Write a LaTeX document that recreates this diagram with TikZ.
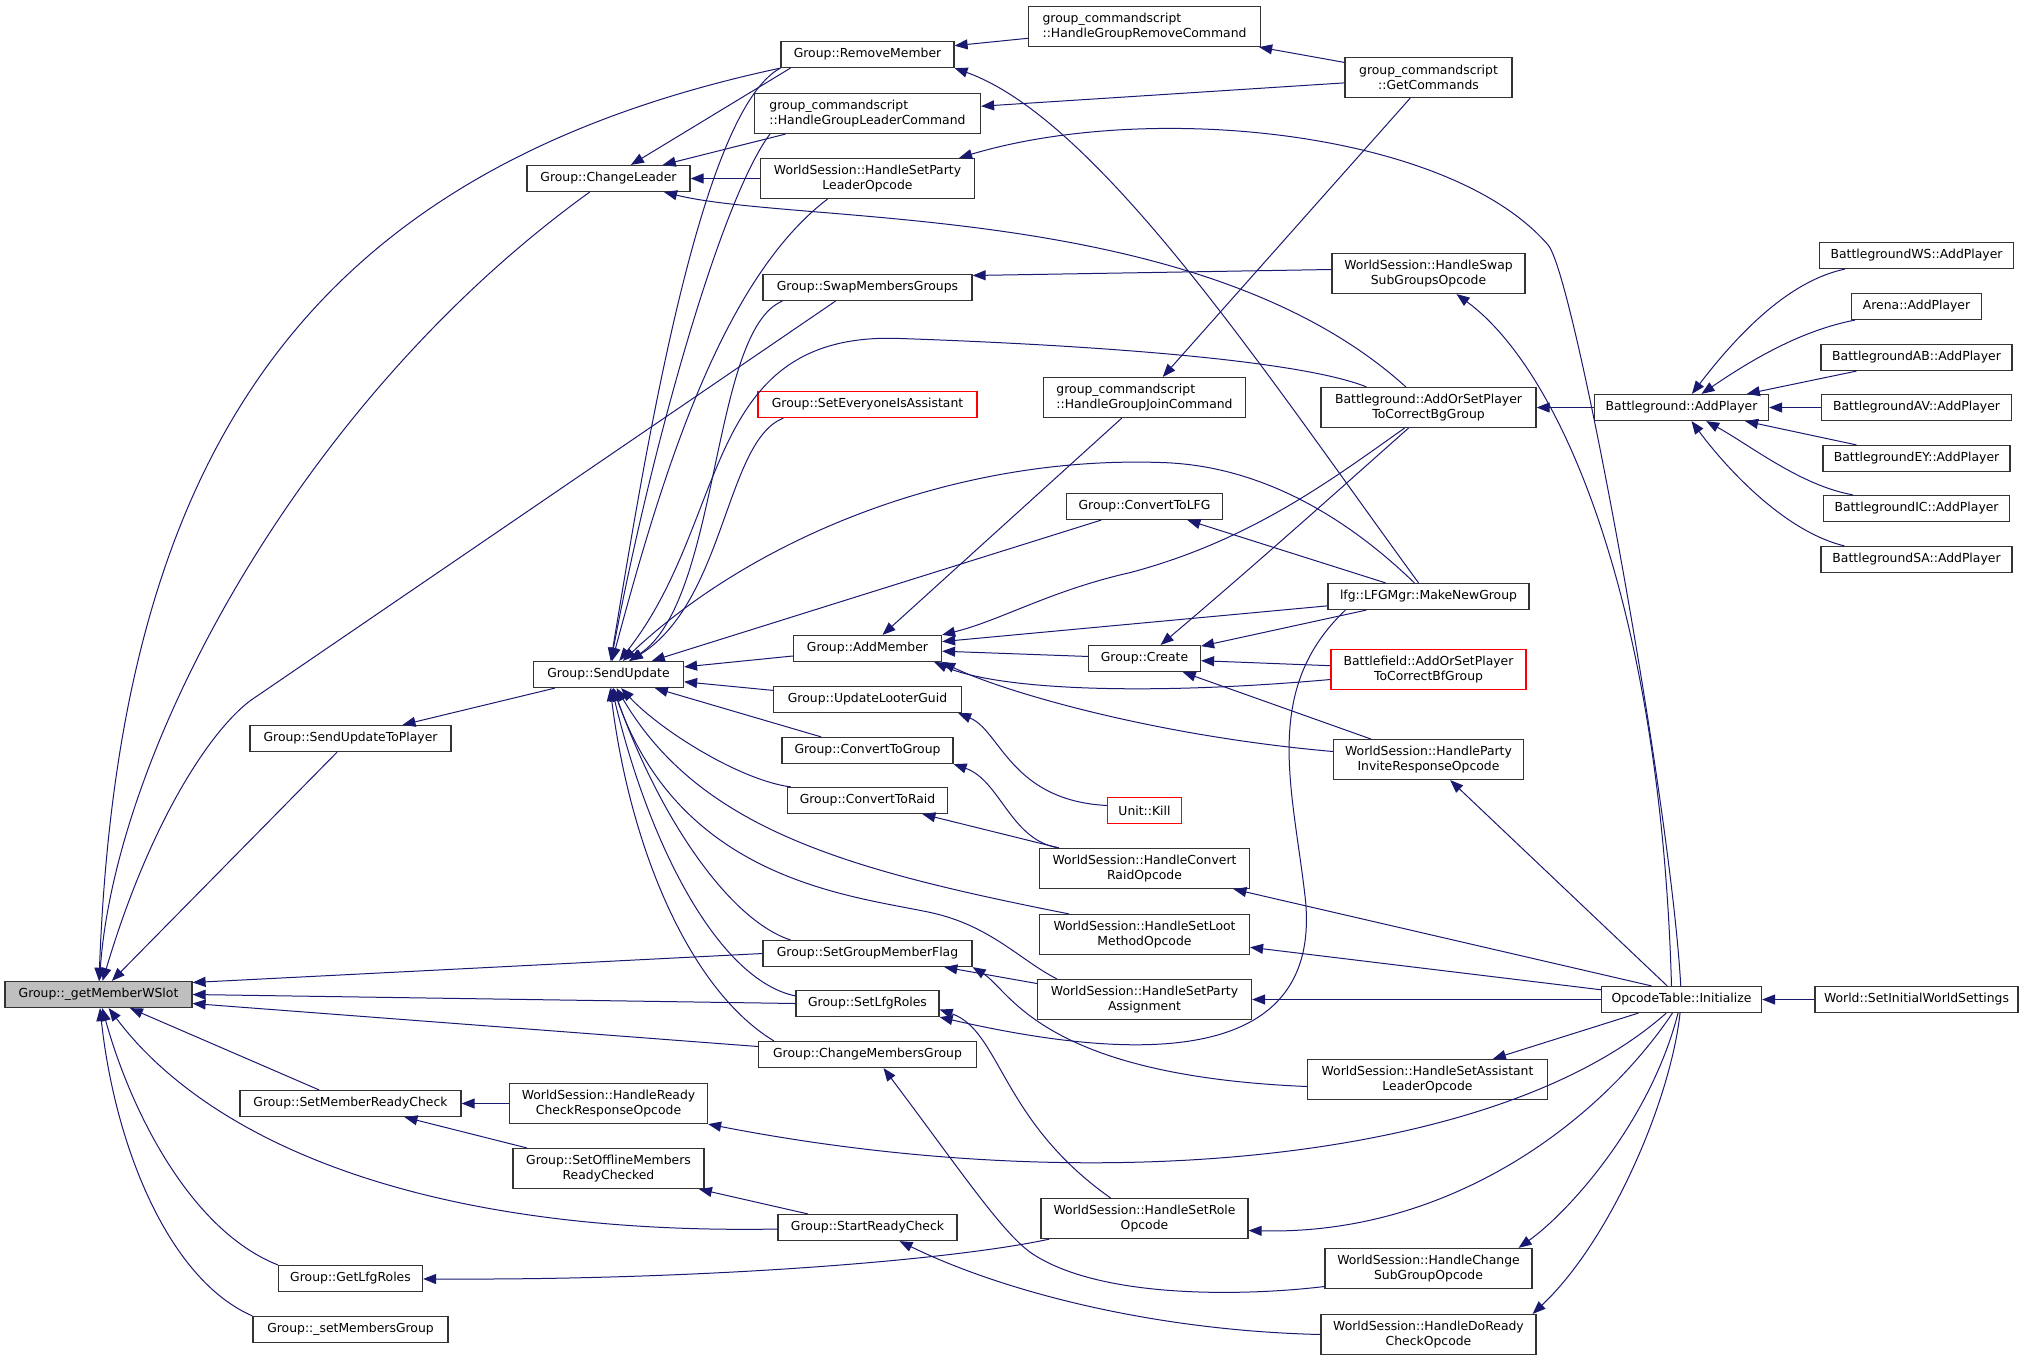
\documentclass[tikz,border=0pt]{standalone}
\usepackage{fontspec}
\setmainfont{DejaVu Sans}
\usetikzlibrary{arrows.meta}
\definecolor{edgeblue}{RGB}{25,25,112}

\begin{document}
\begin{tikzpicture}[
  x=0.5pt, y=-0.5pt,
  font=\fontsize{6.2pt}{7.5pt}\selectfont,
  fn/.style={draw=black!80, line width=0.6pt, rectangle, fill=white, inner xsep=1pt, inner ysep=1.5pt, minimum height=13pt, align=center},
  fnred/.style={fn, draw=red},
  focus/.style={fn, fill=gray!50},
  two/.style={minimum height=20pt},
  arrow/.style={<-, >={Triangle[length=6.5pt,width=5pt]}, draw=edgeblue, line width=0.5pt}
]
\useasboundingbox (-0.5,-0.5) rectangle (2032.5,1359.5);

% Nodes
\node[focus, minimum width=93.5pt] (gmws) at (98,994) {Group::\_getMemberWSlot};

\node[fn, minimum width=100.5pt] (updateplayer) at (350,738) {Group::SendUpdateToPlayer};
\node[fn, minimum width=110.5pt] (memberready) at (350,1103) {Group::SetMemberReadyCheck};
\node[fn, minimum width=72pt] (getlfgroles) at (350,1278) {Group::GetLfgRoles};
\node[fn, minimum width=97.5pt] (setmembers) at (350,1329) {Group::\_setMembersGroup};

\node[fn, minimum width=81.5pt] (changeleader) at (608,178) {Group::ChangeLeader};
\node[fn, minimum width=75pt] (sendupdate) at (608,674) {Group::SendUpdate};
\node[fn, two, minimum width=99pt] (readyresp) at (608,1103) {WorldSession::HandleReady\\CheckResponseOpcode};
\node[fn, two, minimum width=95.5pt] (offline) at (608,1168) {Group::SetOfflineMembers\\ReadyChecked};

\node[fn, minimum width=86.5pt] (remove) at (867,54) {Group::RemoveMember};
\node[fn, two, minimum width=113pt, align=left] (grpleader) at (867,113) {group\_commandscript\\::HandleGroupLeaderCommand};
\node[fn, two, minimum width=107pt] (setpartyleader) at (867,178) {WorldSession::HandleSetParty\\LeaderOpcode};
\node[fn, minimum width=104.5pt] (swap) at (867,287) {Group::SwapMembersGroups};
\node[fnred, minimum width=109.5pt] (everyone) at (867,404) {Group::SetEveryoneIsAssistant};
\node[fn, minimum width=74pt] (addmember) at (867,648) {Group::AddMember};
\node[fn, minimum width=94pt] (looter) at (867,699) {Group::UpdateLooterGuid};
\node[fn, minimum width=85.5pt] (togroup) at (867,750) {Group::ConvertToGroup};
\node[fn, minimum width=80pt] (toraid) at (867,800) {Group::ConvertToRaid};
\node[fn, minimum width=104.5pt] (groupflag) at (867,953) {Group::SetGroupMemberFlag};
\node[fn, minimum width=71.5pt] (setlfgroles) at (867,1003) {Group::SetLfgRoles};
\node[fn, minimum width=109pt] (changegroup) at (867,1054) {Group::ChangeMembersGroup};
\node[fn, minimum width=89.5pt] (startready) at (867,1227) {Group::StartReadyCheck};

\node[fn, two, minimum width=116pt, align=left] (grpremove) at (1144,26) {group\_commandscript\\::HandleGroupRemoveCommand};
\node[fn, two, minimum width=101pt, align=left] (grpjoin) at (1144,397) {group\_commandscript\\::HandleGroupJoinCommand};
\node[fn, minimum width=78pt] (tolfg) at (1144,506) {Group::ConvertToLFG};
\node[fn, minimum width=56pt] (create) at (1144,658) {Group::Create};
\node[fnred, minimum width=37pt] (kill) at (1144,810) {Unit::Kill};
\node[fn, two, minimum width=105pt] (convertraid) at (1144,868) {WorldSession::HandleConvert\\RaidOpcode};
\node[fn, two, minimum width=105pt] (lootmethod) at (1144,934) {WorldSession::HandleSetLoot\\MethodOpcode};
\node[fn, two, minimum width=107pt] (partyassign) at (1144,999) {WorldSession::HandleSetParty\\Assignment};
\node[fn, two, minimum width=103.5pt] (setrole) at (1144,1218) {WorldSession::HandleSetRole\\Opcode};

\node[fn, two, minimum width=83.5pt] (getcmds) at (1428,77) {group\_commandscript\\::GetCommands};
\node[fn, two, minimum width=96.5pt] (swapsub) at (1428,273) {WorldSession::HandleSwap\\SubGroupsOpcode};
\node[fn, two, minimum width=107.5pt] (bgaddorset) at (1428,407) {Battleground::AddOrSetPlayer\\ToCorrectBgGroup};
\node[fn, minimum width=100.5pt] (makenew) at (1428,596) {lfg::LFGMgr::MakeNewGroup};
\node[fnred, two, minimum width=97.5pt] (bfaddorset) at (1428,669) {Battlefield::AddOrSetPlayer\\ToCorrectBfGroup};
\node[fn, two, minimum width=95pt] (invite) at (1428,759) {WorldSession::HandleParty\\InviteResponseOpcode};
\node[fn, two, minimum width=120pt] (assistant) at (1427,1079) {WorldSession::HandleSetAssistant\\LeaderOpcode};
\node[fn, two, minimum width=103.5pt] (changesub) at (1428,1268) {WorldSession::HandleChange\\SubGroupOpcode};
\node[fn, two, minimum width=107.5pt] (doready) at (1428,1334) {WorldSession::HandleDoReady\\CheckOpcode};

\node[fn, minimum width=87pt] (bgaddplayer) at (1681,407) {Battleground::AddPlayer};
\node[fn, minimum width=80pt] (opcode) at (1681,999) {OpcodeTable::Initialize};

\node[fn, minimum width=97pt] (ws) at (1916,255) {BattlegroundWS::AddPlayer};
\node[fn, minimum width=65pt] (arena) at (1916,306) {Arena::AddPlayer};
\node[fn, minimum width=95.5pt] (ab) at (1916,357) {BattlegroundAB::AddPlayer};
\node[fn, minimum width=95pt] (av) at (1916,407) {BattlegroundAV::AddPlayer};
\node[fn, minimum width=93.5pt] (ey) at (1916,458) {BattlegroundEY::AddPlayer};
\node[fn, minimum width=93pt] (ic) at (1916,508) {BattlegroundIC::AddPlayer};
\node[fn, minimum width=95.5pt] (sa) at (1916,559) {BattlegroundSA::AddPlayer};
\node[fn, minimum width=101.5pt] (world) at (1916,999) {World::SetInitialWorldSettings};

% Arrows into Group::_getMemberWSlot
\draw[arrow] (gmws) .. controls (118,460) and (300,170) .. (remove.south west);
\draw[arrow] (gmws) .. controls (115,750) and (300,400) .. (changeleader);
\draw[arrow] (gmws) .. controls (150,820) and (210,730) .. (250,700) -- ([xshift=-16pt]swap.south);
\draw[arrow] (gmws) -- (updateplayer);
\draw[arrow] ([yshift=6pt]gmws.east) -- (groupflag.west);
\draw[arrow] (gmws.east) -- (setlfgroles.west);
\draw[arrow] ([yshift=-4.5pt]gmws.east) -- ([yshift=4pt]changegroup.west);
\draw[arrow] (gmws) -- (memberready);
\draw[arrow] (gmws) .. controls (200,1130) and (400,1235) .. (startready);
\draw[arrow] (gmws) .. controls (130,1110) and (190,1230) .. (getlfgroles.north west);
\draw[arrow] (gmws) .. controls (115,1150) and (170,1280) .. (setmembers.north west);

% Second column
\draw[arrow] ([xshift=26pt]updateplayer.north) -- ([xshift=11pt]sendupdate.south west);
\draw[arrow] (memberready) -- (readyresp);
\draw[arrow] (memberready) -- (offline);
\draw[arrow] (getlfgroles) .. controls (700,1280) and (950,1260) .. (setrole);
\draw[arrow] (changeleader) -- ([xshift=5pt]remove.south west);
\draw[arrow] (changeleader) -- (grpleader);
\draw[arrow] (changeleader) -- (setpartyleader);
\draw[arrow] (changeleader) .. controls (800,225) and (1200,200) .. (bgaddorset);

% Arrows into Group::SendUpdate
\draw[arrow] (sendupdate) .. controls (645,450) and (700,110) .. (remove.south west);
\draw[arrow] (sendupdate) .. controls (650,450) and (720,200) .. ([xshift=8pt]grpleader.south west);
\draw[arrow] (sendupdate) .. controls (660,480) and (720,280) .. ([xshift=-20pt]setpartyleader.south);
\draw[arrow] (sendupdate) .. controls (720,600) and (710,330) .. ([xshift=10pt]swap.south west);
\draw[arrow] (sendupdate) .. controls (725,600) and (725,440) .. ([xshift=13pt]everyone.south west);
\draw[arrow] (sendupdate) .. controls (730,520) and (700,330) .. (900,338) .. controls (1100,345) and (1300,360) .. ([xshift=23pt]bgaddorset.north west);
\draw[arrow] (sendupdate) .. controls (750,540) and (950,455) .. (1160,462) .. controls (1280,465) and (1370,540) .. (makenew);
\draw[arrow] (sendupdate) -- (tolfg);
\draw[arrow] (sendupdate) -- (addmember);
\draw[arrow] (sendupdate) -- (looter);
\draw[arrow] (sendupdate) -- (togroup);
\draw[arrow] (sendupdate) .. controls (660,730) and (740,780) .. ([xshift=2pt]toraid.north west);
\draw[arrow] (sendupdate) .. controls (700,830) and (850,870) .. ([xshift=15pt]lootmethod.north west);
\draw[arrow] (sendupdate) .. controls (680,880) and (850,895) .. (930,912) .. controls (990,925) and (1020,960) .. ([xshift=10pt]partyassign.north west);
\draw[arrow] (sendupdate) .. controls (660,820) and (730,920) .. ([xshift=14pt]groupflag.north west);
\draw[arrow] (sendupdate) .. controls (650,850) and (720,980) .. ([yshift=-3pt]setlfgroles.north west);
\draw[arrow] (sendupdate) .. controls (630,850) and (690,990) .. ([xshift=8pt]changegroup.north west);

% Third column
\draw[arrow] (remove) -- (grpremove);
\draw[arrow] (remove.south east) .. controls (1100,120) and (1270,380) .. (makenew);
\draw[arrow] (grpremove) -- (getcmds);
\draw[arrow] (grpleader) -- (getcmds);
\draw[arrow] (grpjoin) -- (getcmds);
\draw[arrow] (addmember) -- (grpjoin);
\draw[arrow] ([yshift=6pt]swap.east) -- ([yshift=2pt]swapsub.west);
\draw[arrow] (swapsub) .. controls (1560,370) and (1660,600) .. ([xshift=-5pt]opcode.north);
\draw[arrow] ([xshift=-8pt]setpartyleader.north east) .. controls (1150,100) and (1450,130) .. (1548,245) .. controls (1575,280) and (1670,800) .. (opcode);
\draw[arrow] (addmember.north east) .. controls (1000,620) and (1050,590) .. (1130,572) .. controls (1250,540) and (1330,480) .. ([xshift=-12pt]bgaddorset.south);
\draw[arrow] (addmember) -- (makenew);
\draw[arrow] (addmember) -- (create);
\draw[arrow] ([xshift=-4pt]addmember.south east) .. controls (1000,690) and (1150,695) .. ([yshift=-5pt]bfaddorset.west);
\draw[arrow] (addmember.south east) .. controls (1000,690) and (1150,735) .. ([yshift=4pt]invite.west);
\draw[arrow] ([xshift=-2pt]looter.south east) .. controls (1000,730) and (1010,800) .. ([yshift=2.5pt]kill.west);
\draw[arrow] (togroup.south east) .. controls (1000,780) and (1010,840) .. ([xshift=10pt]convertraid.north west);
\draw[arrow] (toraid) -- ([xshift=10pt]convertraid.north west);
\draw[arrow] (groupflag) -- ([yshift=8pt]partyassign.west);
\draw[arrow] (groupflag.south east) .. controls (1010,990) and (1040,1075) .. ([yshift=-3.5pt]assistant.west);
\draw[arrow] ([yshift=-3pt]setlfgroles.east) .. controls (1000,1030) and (1000,1120) .. ([xshift=-17pt]setrole.north);
\draw[arrow] (setlfgroles.south east) .. controls (1150,1065) and (1320,1060) .. (1305,900) .. controls (1293,790) and (1260,690) .. ([xshift=9pt]makenew.south west);
\draw[arrow] ([xshift=8pt]changegroup.south) .. controls (960,1170) and (1000,1230) .. (1030,1252) .. controls (1100,1300) and (1250,1295) .. ([yshift=-9pt]changesub.west);
\draw[arrow] ([xshift=16pt]startready.south) .. controls (1000,1290) and (1150,1330) .. (doready.west);
\draw[arrow] (offline) -- (startready);
\draw[arrow] (readyresp.south east) .. controls (1100,1200) and (1500,1160) .. (opcode);

% Fourth column
\draw[arrow] (tolfg) -- (makenew);
\draw[arrow] (create) .. controls (1260,560) and (1360,470) .. ([xshift=-10pt]bgaddorset.south);
\draw[arrow] (create) -- (makenew);
\draw[arrow] (create) -- (bfaddorset);
\draw[arrow] (create) -- (invite);
\draw[arrow] (convertraid) -- ([xshift=-15pt]opcode.north);
\draw[arrow] (lootmethod) -- (opcode);
\draw[arrow] (partyassign) -- (opcode);
\draw[arrow] ([yshift=-6pt]setrole.east) .. controls (1450,1235) and (1600,1120) .. (opcode);

% Right columns
\draw[arrow] (invite) -- (opcode);
\draw[arrow] (assistant) -- (opcode);
\draw[arrow] ([xshift=-7pt]changesub.north east) .. controls (1570,1210) and (1650,1120) .. (opcode);
\draw[arrow] ([xshift=-2pt]doready.north east) .. controls (1610,1240) and (1670,1100) .. (opcode);
\draw[arrow] (bgaddorset) -- (bgaddplayer);
\draw[arrow] (bgaddplayer) .. controls (1740,330) and (1790,280) .. ([xshift=13pt]ws.south west);
\draw[arrow] (bgaddplayer) .. controls (1750,360) and (1800,330) .. ([xshift=2pt]arena.south west);
\draw[arrow] (bgaddplayer) -- ([xshift=18pt]ab.south west);
\draw[arrow] (bgaddplayer) -- (av);
\draw[arrow] (bgaddplayer) -- ([xshift=17pt]ey.north west);
\draw[arrow] (bgaddplayer) .. controls (1750,445) and (1800,485) .. ([xshift=15pt]ic.north west);
\draw[arrow] (bgaddplayer) .. controls (1720,460) and (1780,530) .. ([xshift=12pt]sa.north west);
\draw[arrow] (opcode) -- (world);

\end{tikzpicture}
\end{document}
